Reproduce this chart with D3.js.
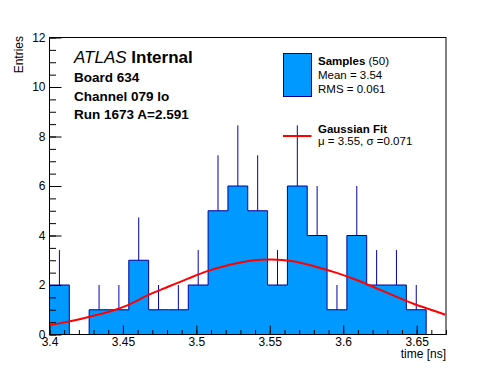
<!DOCTYPE html>
<html>
<head>
<meta charset="utf-8">
<script src="https://cdn.jsdelivr.net/npm/d3@7"></script>
<style>
  body { margin: 0; background: #fff; }
  svg { display: block; font-family: "Liberation Sans", Arial, Helvetica, sans-serif; }
  .axis text { font-size: 12px; fill: #000; }
  .axis line { stroke: #000; }
</style>
</head>
<body>
<script>
// histogram bins (time in ns)
var binEdges = [3.4, 3.4135, 3.427, 3.4405, 3.454, 3.4675, 3.481, 3.4945, 3.508, 3.5215, 3.535,
                3.5485, 3.562, 3.5755, 3.589, 3.6025, 3.616, 3.6295, 3.643, 3.6565, 3.67];
var counts = [2, 0, 1, 1, 3, 1, 1, 2, 5, 6, 5, 2, 6, 4, 1, 4, 2, 2, 1, 0];
var errors = [1.41, 0, 1, 1, 1.73, 1, 1, 1.41, 2.24, 2.45, 2.24, 1.41, 2.45, 2, 1, 2, 1.41, 1.41, 1, 0];

// gaussian fit curve
var fitX = [3.400, 3.4102, 3.4273, 3.4443, 3.4534, 3.4671, 3.4807, 3.4943, 3.508, 3.5216, 3.533,
            3.5364, 3.5512, 3.566, 3.5819, 3.5956, 3.6092, 3.6229, 3.6365, 3.6501, 3.6638, 3.6694];
var fitY = [0.38, 0.49, 0.72, 0.99, 1.19, 1.59, 1.93, 2.26, 2.57, 2.80, 2.94,
            2.98, 3.03, 2.96, 2.73, 2.49, 2.20, 1.86, 1.52, 1.19, 0.92, 0.80];

var xTicks = [3.4, 3.45, 3.5, 3.55, 3.6, 3.65];
var yTicks = [0, 2, 4, 6, 8, 10, 12];

var infoLines = ["Board 634", "Channel 079 lo", "Run 1673 A=2.591"];

var fillColor = "#0099ff", lineColor = "#000099", errColor = "#0000b4";

var W = 496, H = 372;
var margin = {top: 37.5, left: 49.5},
    width = 396.5,
    height = 297;

var svg = d3.select("body").append("svg")
    .attr("width", W)
    .attr("height", H);

svg.append("rect").attr("width", W).attr("height", H).attr("fill", "#fff");

var g = svg.append("g")
    .attr("transform", "translate(" + margin.left + "," + margin.top + ")");

var x = d3.scaleLinear().domain([3.4, 3.67]).range([0, width]);
var y = d3.scaleLinear().domain([0, 12]).range([height, 0]);

// histogram fill + outline as a step path
var bins = counts.map(function(c, i) {
    return { x0: binEdges[i], x1: binEdges[i + 1], n: c, err: errors[i] };
});

var stepPts = [[binEdges[0], 0]];
bins.forEach(function(b) {
    stepPts.push([b.x0, b.n]);
    stepPts.push([b.x1, b.n]);
});
stepPts.push([binEdges[binEdges.length - 1], 0]);

var stepLine = d3.line()
    .x(function(d) { return x(d[0]); })
    .y(function(d) { return y(d[1]); });

// error bars (upper part only visible)
g.selectAll(".err")
  .data(bins.filter(function(b) { return b.n > 0; }))
.enter().append("line")
  .attr("class", "err")
  .attr("x1", function(b) { return x((b.x0 + b.x1) / 2); })
  .attr("x2", function(b) { return x((b.x0 + b.x1) / 2); })
  .attr("y1", function(b) { return y(b.n); })
  .attr("y2", function(b) { return y(b.n + b.err); })
  .attr("stroke", errColor)
  .attr("stroke-width", 1);

g.append("path")
  .attr("d", stepLine(stepPts))
  .attr("fill", fillColor)
  .attr("stroke", lineColor)
  .attr("stroke-width", 1);

// fit curve
var fitLine = d3.line()
    .x(function(d, i) { return x(fitX[i]); })
    .y(function(d) { return y(d); })
    .curve(d3.curveMonotoneX);

g.append("path")
  .attr("d", fitLine(fitY))
  .attr("fill", "none")
  .attr("stroke", "#ff0000")
  .attr("stroke-width", 2);

// axes
var xMinor = d3.range(0, 28).map(function(i) { return +(3.4 + i * 0.01).toFixed(2); })
    .filter(function(v) { return v <= 3.67; });
var yMinor = d3.range(0, 25).map(function(i) { return i * 0.5; });

g.append("g")
  .attr("class", "axis")
  .attr("transform", "translate(0," + height + ")")
  .call(d3.axisBottom(x).tickValues(xMinor).tickSize(-4.5).tickFormat(""))
  .call(function(s) { s.select(".domain").remove(); });

g.append("g")
  .attr("class", "axis")
  .attr("transform", "translate(0," + height + ")")
  .call(d3.axisBottom(x).tickValues(xTicks).tickSize(-9).tickPadding(3).tickFormat(d3.format("")))
  .call(function(s) { s.select(".domain").remove(); });

g.append("g")
  .attr("class", "axis")
  .call(d3.axisLeft(y).tickValues(yMinor).tickSize(-6.5).tickFormat(""))
  .call(function(s) { s.select(".domain").remove(); });

g.append("g")
  .attr("class", "axis")
  .call(d3.axisLeft(y).tickValues(yTicks).tickSize(-12).tickPadding(4))
  .call(function(s) { s.select(".domain").remove(); });

// frame
g.append("rect")
  .attr("width", width)
  .attr("height", height)
  .attr("fill", "none")
  .attr("stroke", "#000")
  .attr("stroke-width", 1);

// axis titles
svg.append("text")
  .attr("transform", "translate(23,36) rotate(-90)")
  .attr("text-anchor", "end")
  .attr("font-size", 12)
  .text("Entries");

svg.append("text")
  .attr("x", 446)
  .attr("y", 358)
  .attr("text-anchor", "end")
  .attr("font-size", 12)
  .text("time [ns]");

// ATLAS label block
var atlas = svg.append("text")
  .attr("x", 74)
  .attr("y", 63)
  .attr("font-size", 17);
atlas.append("tspan").attr("font-style", "italic").text("ATLAS");
atlas.append("tspan").attr("font-weight", "bold").text(" Internal");

svg.selectAll(".info")
  .data(infoLines)
.enter().append("text")
  .attr("class", "info")
  .attr("x", 74)
  .attr("y", function(d, i) { return 82 + i * 18.6; })
  .attr("font-size", 13.5)
  .attr("font-weight", "bold")
  .text(function(d) { return d; });

// legend
svg.append("rect")
  .attr("x", 283.5).attr("y", 53.5)
  .attr("width", 28).attr("height", 43)
  .attr("fill", fillColor)
  .attr("stroke", lineColor);

var t1 = svg.append("text").attr("x", 318).attr("y", 65).attr("font-size", 11.5);
t1.append("tspan").attr("font-weight", "bold").text("Samples");
t1.append("tspan").text(" (50)");
svg.append("text").attr("x", 318).attr("y", 79.3).attr("font-size", 11.5).text("Mean = 3.54");
svg.append("text").attr("x", 318).attr("y", 93.3).attr("font-size", 11.5).text("RMS = 0.061");

svg.append("line")
  .attr("x1", 283).attr("x2", 311.5)
  .attr("y1", 136).attr("y2", 136)
  .attr("stroke", "#ff0000").attr("stroke-width", 2);
svg.append("text").attr("x", 318).attr("y", 132.7).attr("font-size", 11.5)
  .attr("font-weight", "bold").text("Gaussian Fit");
svg.append("text").attr("x", 318).attr("y", 144.5).attr("font-size", 11.5)
  .text("\u03bc = 3.55, \u03c3 =0.071");
</script>
</body>
</html>
